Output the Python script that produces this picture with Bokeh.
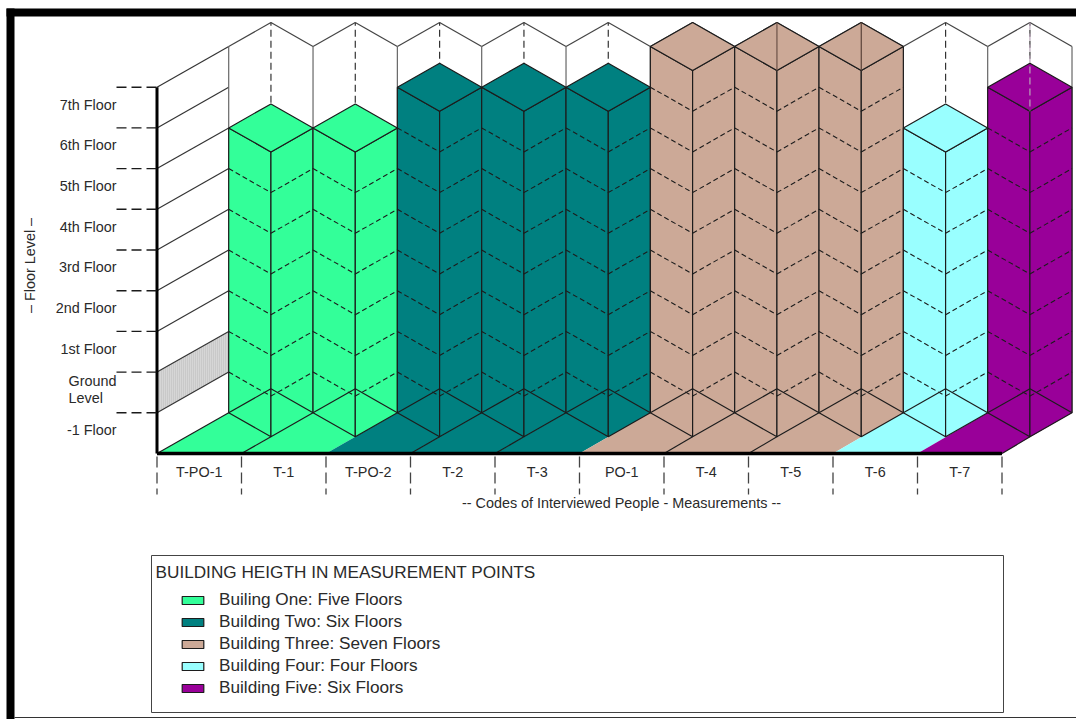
from bokeh.plotting import figure
from bokeh.models import Legend, LegendItem
from bokeh.core.properties import value
from bokeh.embed import file_html
from bokeh.resources import INLINE

WIDTH, HEIGHT = 1076, 719

# Measurement points, in chart order
points = ["T-PO-1", "T-1", "T-PO-2", "T-2", "T-3", "PO-1", "T-4", "T-5", "T-6", "T-7"]
# Highest floor reached at each point
top_floor = [5, 5, 6, 6, 6, 7, 7, 7, 5, 6]
# Building at each point
building = [0, 0, 1, 1, 1, 2, 2, 2, 3, 4]

building_names = [
    "Builing One: Five Floors",
    "Building Two: Six Floors",
    "Building Three: Seven Floors",
    "Building Four: Four Floors",
    "Building Five: Six Floors",
]
building_colors = ["#33FF99", "#008080", "#CCA997", "#99FFFF", "#990099"]

floor_labels = ["7th Floor", "6th Floor", "5th Floor", "4th Floor", "3rd Floor",
                "2nd Floor", "1st Floor"]
y_title = "– Floor Level –"
x_title = "-- Codes of Interviewed People - Measurements --"
legend_title = "BUILDING HEIGTH IN MEASUREMENT POINTS"

# Chart layout in page pixels
ORIGIN_X, ORIGIN_Y = 156.5, 453.0
CELL_W, LEVEL_H = 84.5, 40.7
# Oblique projection: how far the back of the floor sits from the front
DEPTH_X = 71.7 / CELL_W
DEPTH_Y = 1.0
BACK_SCALE = 0.998
HALF_W = 0.5
# Drop of the front corner of a block below its side corners, in levels
DROP = 24.0 / LEVEL_H
LEVELS_BELOW_FIRST = 2   # basement and ground level sit under the 1st floor
TOP_LEVEL = 9
INK = "#1c1c1c"
FONT = value("Liberation Sans")
TEXT_COLOR = "#2a2a2a"
LABEL_SIZE = "14.4px"
LEGEND_SIZE = "17.2px"


def sx(px):
    return (px - ORIGIN_X) / CELL_W


def sy(py):
    return (ORIGIN_Y - py) / LEVEL_H


def back(i):
    return DEPTH_X + i * BACK_SCALE


p = figure(width=WIDTH, height=HEIGHT, output_backend="svg", toolbar_location=None,
           x_range=(sx(0), sx(WIDTH)), y_range=(sy(HEIGHT), sy(0)),
           min_border=0, outline_line_color=None, background_fill_color="white")
p.axis.visible = False
p.grid.visible = False

n = len(points)
heights = [f + LEVELS_BELOW_FIRST for f in top_floor]


def segs(lines, color=INK, width=1.2, dash="solid"):
    xs = [[a[0], b[0]] for a, b in lines]
    ys = [[a[1], b[1]] for a, b in lines]
    p.multi_line(xs, ys, line_color=color, line_width=width, line_dash=dash)


def label(x, y, text, align="center", size=LABEL_SIZE, **kw):
    p.text(x, y, text=text, text_font=FONT, text_font_size=size, text_color=TEXT_COLOR,
           text_align=align, text_baseline="middle", **kw)


# Side wall: shaded ground-level band and one rising line per level
p.patch([0, 0, DEPTH_X, DEPTH_X], [1, 2, 3, 2], fill_color="#d6d6d6", line_color=None,
        hatch_pattern="vertical_line", hatch_color="#bcbcbc", hatch_scale=2, hatch_weight=1)
segs([((0, l), (DEPTH_X, l + DEPTH_Y)) for l in range(1, TOP_LEVEL + 1)], color="#333333")

# Back wall: zigzag top edge with solid corners and dashed folds
wall_top = TOP_LEVEL + DEPTH_Y
zig = []
for i in range(n):
    zig.append(((back(i), wall_top), (back(i) + HALF_W, wall_top + DROP)))
    zig.append(((back(i) + HALF_W, wall_top + DROP), (back(i + 1), wall_top)))
segs(zig, color="#444444")
segs([((back(i), DEPTH_Y), (back(i), wall_top)) for i in range(n + 1)], color="#666666")
segs([((back(i) + HALF_W, DEPTH_Y + DROP), (back(i) + HALF_W, wall_top + DROP))
      for i in range(n)], color="#333333", dash="7 4")

# Floor of each point, without outlines so neighbouring buildings meet cleanly
p.patches(
    [[i, i + 1, back(i + 1), back(i)] for i in range(n)],
    [[0, 0, DEPTH_Y, DEPTH_Y] for _ in range(n)],
    fill_color=[building_colors[b] for b in building], line_color=None)

# Blocks, one renderer per building so the legend can refer to them
renderers = []
for b, color in enumerate(building_colors):
    xs, ys = [], []
    for i in range(n):
        if building[i] != b:
            continue
        h = heights[i]
        x0, x1 = back(i), back(i + 1)
        xm = x0 + HALF_W
        base = DEPTH_Y
        # left face, right face and roof
        xs.append([x0, xm, xm, x0])
        ys.append([base, base - DROP, base + h - DROP, base + h])
        xs.append([xm, x1, x1, xm])
        ys.append([base - DROP, base, base + h, base + h - DROP])
        xs.append([x0, xm, x1, xm])
        ys.append([base + h, base + h + DROP, base + h, base + h - DROP])
    renderers.append(p.patches(xs, ys, fill_color=color, line_color=INK, line_width=1.2))

# Remaining block edges and the dashed floor chevrons on each block
edges, chevrons = [], []
for i in range(n):
    h = heights[i]
    x0, x1 = back(i), back(i + 1)
    xm = x0 + HALF_W
    base = DEPTH_Y
    edges += [
        ((x0, base), (xm, base + DROP)),
        ((xm, base + DROP), (x1, base)),
    ]
    if i < n - 1 and building[i + 1] == building[i] or i == n - 1:
        edges.append(((i + 1, 0), (xm, base - DROP)))
    for l in range(1, h):
        chevrons.append(((x0, base + l), (xm, base + l - DROP)))
        chevrons.append(((xm, base + l - DROP), (x1, base + l)))
edges.append(((0, 0), (DEPTH_X, DEPTH_Y)))
segs(edges, color=INK)
segs(chevrons, color=INK, width=1.1, dash="5 3")

# Folds of the back wall that show through some of the roofs
for i, color, dash in [(6, "#6b5147", "solid"), (7, "#5a4338", "solid"), (9, "#b9a6b9", "7 4")]:
    xm = back(i) + HALF_W
    roof = DEPTH_Y + heights[i]
    segs([((xm, wall_top + DROP), (xm, roof - DROP))], color=color, dash=dash)

# Main axis lines
segs([((0, 0), (0, TOP_LEVEL))], color="black", width=3)
segs([((0, 0), (n, 0))], color="black", width=3.5)

# Tick dashes on both axes
segs([((sx(116), l), (0, l)) for l in range(1, TOP_LEVEL + 1)], color="#1a1a1a", width=1.4, dash="10 5")
segs([((i, sy(456)), (i, sy(494))) for i in range(n + 1)], color="#444444", width=1.3, dash="11 5")

# Floor and point labels; text sits slightly above the centre of its band
lift = 3.0 / LEVEL_H
label([sx(116)] * len(floor_labels), [l + 0.5 + lift for l in range(TOP_LEVEL - 1, 1, -1)],
      floor_labels, align="right")
label([sx(68)] * 2, [sy(380), sy(397)], ["Ground", "Level"], align="left")
label([sx(116)], [0.5 + lift], ["-1 Floor"], align="right")
label([i + 0.5 for i in range(n)], [sy(471)] * n, points)
label([sx(621)], [sy(502)], [x_title])
label([sx(29)], [sy(265)], [y_title], angle=90, angle_units="deg")

# Page frame
p.quad(left=[sx(6), sx(6)], right=[sx(14), sx(WIDTH)], top=[sy(8), sy(8)],
       bottom=[sy(HEIGHT), sy(16)], fill_color="black", line_color=None)
segs([((sx(14), sy(717)), (sx(WIDTH), sy(717)))], color="#333333")

# Legend box with its heading and entries
p.quad(left=[sx(151)], right=[sx(1003)], top=[sy(555)], bottom=[sy(712)], fill_color="white",
       line_color="#444444")
label([sx(155)], [sy(571)], [legend_title], align="left", size=LEGEND_SIZE)
legend = Legend(
    items=[LegendItem(label=name, renderers=[renderers[b]]) for b, name in enumerate(building_names)],
    location=(179, 719 - 698), orientation="vertical", glyph_width=27, glyph_height=10,
    label_standoff=13, spacing=1, padding=0, margin=0, border_line_color=None,
    background_fill_alpha=0, label_text_font="Liberation Sans", label_text_font_size=LEGEND_SIZE,
    label_text_color=TEXT_COLOR, label_height=16)
p.add_layout(legend, "center")

open("out.html", "w").write(file_html(p, INLINE))
